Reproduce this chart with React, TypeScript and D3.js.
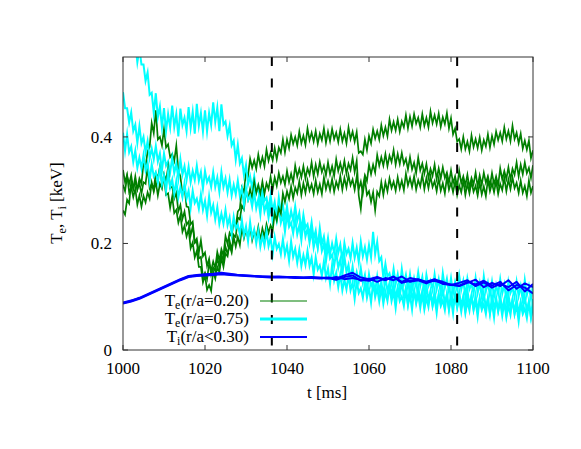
import React from "react";
import * as d3 from "d3";

// ---- data (values in units of 0.001 keV) ----
const T_START = 1000;
const FAST_STEP = 0.5; // ms, Te samples
const SLOW_STEP = 2; // ms, Ti samples

const teCoreA = [310,298,326,312,328,302,317,302,322,312,351,344,373,381,426,407,450,395,400,384,415,380,386,362,368,355,384,337,326,292,306,269,268,236,241,201,203,172,175,136,145,133,162,149,166,154,184,168,189,177,214,199,220,213,243,230,260,265,305,296,335,327,359,342,356,340,367,346,362,345,376,355,370,356,379,358,380,370,395,371,395,379,404,387,400,384,410,388,402,385,416,394,408,391,411,387,406,394,416,389,410,392,415,396,408,390,414,392,407,388,418,396,410,391,409,370,373,367,395,375,402,388,414,397,411,395,422,402,418,401,433,412,428,412,433,410,429,418,441,416,438,420,443,425,436,418,443,421,436,418,448,426,441,424,444,419,437,424,445,416,435,405,416,391,396,377,400,377,391,373,403,381,396,379,399,375,394,382,405,380,402,386,410,394,408,392,418,396,411,392,421,396,408,388,406,378,393,376,393,360,375];

const teCoreB = [262,254,282,275,316,303,326,301,313,293,315,312,343,304,312,302,332,323,344,313,324,291,294,267,288,257,263,239,253,222,233,213,227,191,202,174,186,156,156,127,140,113,122,111,148,134,156,146,173,156,181,176,205,187,216,212,249,245,271,264,300,283,302,285,316,295,310,294,316,293,313,302,325,301,324,308,332,314,326,310,336,315,331,314,346,325,340,324,345,322,341,329,352,326,348,330,353,334,346,328,352,330,345,327,358,336,351,334,355,331,350,338,361,334,355,290,265,306,328,317,348,330,348,333,366,346,362,346,368,345,365,353,375,348,368,349,370,349,359,339,362,339,352,332,361,337,350,331,349,323,340,327,348,321,341,322,343,323,333,314,337,313,326,307,336,313,326,309,329,305,323,311,333,307,328,310,333,314,326,308,332,311,326,309,341,320,336,321,343,320,340,329,352,326,348,330,352,332,342,323,347];

const teCoreC = [338,315,329,296,305,287,303,273,290,269,289,277,296,284,314,297,316,290,312,303,330,318,343,304,307,284,295,260,272,246,260,235,241,215,232,202,209,183,206,176,183,158,171,142,155,148,175,154,180,167,194,180,196,183,212,194,212,197,230,210,226,210,231,206,223,210,231,206,228,212,236,220,234,224,257,243,266,256,294,278,298,284,307,285,305,294,317,291,313,295,318,299,311,293,318,296,311,293,324,302,317,300,321,297,316,304,327,301,323,305,328,309,320,301,325,302,316,294,321,291,298,278,296,262,297,289,315,291,315,298,322,304,316,299,324,303,318,300,331,309,323,306,326,301,319,307,329,302,323,304,326,306,317,298,322,299,313,294,324,301,314,296,316,291,309,296,318,291,312,294,316,297,308,290,314,292,307,289,320,298,313,296,317,293,312,300,323,298,320,302,324,304,314,295,318,295,308,289,318,295,308];

const teEdgeA = [612,579,596,575,598,566,577,540,566,536,536,505,521,479,483,445,482,437,457,418,454,411,443,418,459,419,443,401,453,422,436,411,456,417,447,406,462,421,445,410,450,410,445,422,465,428,455,411,461,423,429,402,421,384,393,357,385,350,360,328,347,311,326,304,326,295,307,274,304,280,286,265,291,261,278,250,286,257,272,246,270,240,261,243,270,242,257,224,254,230,236,215,240,209,224,194,229,199,213,186,210,180,200,182,209,182,198,168,201,180,190,172,201,173,192,165,203,176,193,170,197,174,222,180,203,167,174,136,162,138,144,125,152,124,142,115,152,124,141,116,142,113,135,118,146,120,137,107,141,120,130,113,142,114,133,106,144,117,134,109,135,106,128,112,140,113,130,100,134,114,124,106,135,107,126,100,138,110,127,102,128,100,122,105,133,106,123,94,128,107,117,99,128,101,120,93,131,103,120,96,122];

const teEdgeB = [484,454,454,427,446,411,423,389,420,388,400,371,392,360,378,358,383,354,369,337,369,346,354,334,361,332,350,322,358,329,345,319,344,315,336,319,346,318,334,303,336,315,324,306,334,306,324,297,334,306,322,296,320,290,310,292,318,289,304,272,304,281,289,269,296,266,283,254,290,260,275,248,272,241,261,242,268,239,254,222,254,231,239,219,246,217,234,206,242,213,228,201,224,192,211,191,216,186,199,166,196,172,179,158,184,154,170,141,176,146,160,133,157,126,146,128,154,126,141,110,142,120,129,110,138,110,128,101,138,110,126,101,126,97,118,101,128,101,117,87,120,99,109,91,120,92,111,84,122,94,110,85,111,82,104,87,115,88,105,75,109,88,98,81,110,82,101,74,112,85,102,77,103,74,96,79,107,80,97,68,102,81,91,74,103,75,94,67,105,78,95,70,96,68,90,73,101,74,91,62,96];

const teEdgeC = [408,374,405,371,382,353,374,342,361,341,366,337,351,318,349,326,334,314,341,311,328,299,335,305,320,293,317,286,306,287,313,284,299,267,299,276,284,265,292,263,280,252,288,258,272,245,268,237,256,237,263,234,249,218,250,228,236,217,244,215,232,204,240,211,226,200,224,194,214,196,223,195,211,180,212,190,199,180,208,179,196,168,204,175,190,164,188,158,178,160,186,158,173,142,174,151,159,139,166,136,153,124,160,130,145,118,142,112,132,114,140,112,127,96,129,107,116,98,126,98,116,89,127,99,116,91,116,87,109,92,119,92,109,79,113,92,101,83,112,84,103,76,114,87,104,79,105,76,98,81,109,82,99,70,104,83,93,75,104,77,96,69,107,79,96,72,98,69,91,74,102,75,92,63,97,76,86,68,97,69,88,61,99,72,89,64,90,61,83,66,94,67,84,54,88,68,78,60,89,61,80];

const tiCoreA = [88,92,98,105,112,119,126,133,139,141,142,143,145,143,141,140,139,138,137,138,137,137,136,137,135,136,134,140,145,136,133,137,131,138,128,135,132,128,133,124,123,120,126,132,118,126,120,131,115,125,118];
const tiCoreB = [89,93,97,104,111,118,125,132,138,140,141,142,143,142,141,140,139,138,138,137,137,136,136,136,136,134,137,133,135,132,130,135,132,137,126,130,133,127,130,125,122,126,131,120,127,117,124,118,128,110,124];
const tiCoreC = [87,91,96,103,110,117,124,131,137,139,140,141,142,141,140,139,138,137,136,136,136,135,135,135,134,135,132,137,140,130,134,128,135,131,138,128,131,125,132,128,122,121,128,123,130,121,128,112,122,117,106];

const xTicks = [1000, 1020, 1040, 1060, 1080, 1100];
const yTicks = [0, 0.2, 0.4];
const yTickLabels = ["0", "0.2", "0.4"];
const markerTimes = [1036.3, 1081.5];

const legendItems = [
  { sym: "T", sub: "e", rest: "(r/a=0.20)", color: "#007f00", width: 1.2 },
  { sym: "T", sub: "e", rest: "(r/a=0.75)", color: "#00ffff", width: 3 },
  { sym: "T", sub: "i", rest: "(r/a<0.30)", color: "#0000ff", width: 2 },
];

const W = 581;
const H = 449;
const M = { left: 123, right: 533, top: 57, bottom: 350 };
const FONT = "'Liberation Serif', 'Times New Roman', serif";

export default function App() {
  const x = d3.scaleLinear().domain([1000, 1100]).range([M.left, M.right]);
  const y = d3.scaleLinear().domain([0, 0.55]).range([M.bottom, M.top]);

  const fastLine = d3
    .line<number>()
    .x((_, i) => x(T_START + i * FAST_STEP))
    .y((d) => y(d / 1000));
  const slowLine = d3
    .line<number>()
    .x((_, i) => x(T_START + i * SLOW_STEP))
    .y((d) => y(d / 1000));

  const green = "#007f00";
  const cyan = "#00ffff";
  const fastSeries = [
    { data: teCoreA, color: green, w: 1.7 },
    { data: teEdgeA, color: cyan, w: 2 },
    { data: teCoreB, color: green, w: 1.7 },
    { data: teEdgeB, color: cyan, w: 2 },
    { data: teCoreC, color: green, w: 1.7 },
    { data: teEdgeC, color: cyan, w: 2 },
  ];
  const slowSeries = [tiCoreA, tiCoreB, tiCoreC];

  const legendRight = 249;
  const legendX1 = 260;
  const legendX2 = 307;
  const legendY0 = 301;
  const legendDy = 18;

  return (
    <svg
      width={W}
      height={H}
      style={{ position: "absolute", left: 0, top: 0, background: "#fff" }}
      fontFamily={FONT}
      fontSize={17}
    >
      <defs>
        <clipPath id="plotClip">
          <rect x={M.left} y={M.top} width={M.right - M.left} height={M.bottom - M.top} />
        </clipPath>
      </defs>
      <rect x={0} y={0} width={W} height={H} fill="#fff" />

      <g clipPath="url(#plotClip)">
        {fastSeries.map((s, i) => (
          <path key={"f" + i} d={fastLine(s.data) || ""} fill="none" stroke={s.color} strokeWidth={s.w} strokeLinejoin="miter" strokeMiterlimit={10} />
        ))}
        {slowSeries.map((s, i) => (
          <path key={"s" + i} d={slowLine(s) || ""} fill="none" stroke="#0000ff" strokeWidth={2} strokeLinejoin="round" />
        ))}
        {markerTimes.map((t) => (
          <line key={t} x1={x(t)} x2={x(t)} y1={M.top} y2={M.bottom} stroke="#000" strokeWidth={2} strokeDasharray="9 12.5" />
        ))}
      </g>

      {/* frame */}
      <rect x={M.left} y={M.top} width={M.right - M.left} height={M.bottom - M.top} fill="none" stroke="#333" strokeWidth={1} />

      {/* x ticks */}
      {xTicks.map((t) => (
        <g key={"xt" + t}>
          <line x1={x(t)} x2={x(t)} y1={M.bottom} y2={M.bottom - 5} stroke="#333" />
          <line x1={x(t)} x2={x(t)} y1={M.top} y2={M.top + 5} stroke="#333" />
          <text x={x(t)} y={374} textAnchor="middle">{t}</text>
        </g>
      ))}

      {/* y ticks */}
      {yTicks.map((v, i) => (
        <g key={"yt" + v}>
          <line x1={M.left} x2={M.left + 5} y1={y(v)} y2={y(v)} stroke="#333" />
          <line x1={M.right} x2={M.right - 5} y1={y(v)} y2={y(v)} stroke="#333" />
          <text x={112} y={y(v) + 6} textAnchor="end">{yTickLabels[i]}</text>
        </g>
      ))}

      {/* axis labels */}
      <text x={327} y={398} textAnchor="middle">t [ms]</text>
      <text transform="translate(62,203) rotate(-90)" textAnchor="middle">
        <tspan>T</tspan>
        <tspan dy={4} fontSize={12}>e</tspan>
        <tspan dy={-4}>, T</tspan>
        <tspan dy={4} fontSize={12}>i</tspan>
        <tspan dy={-4}> [keV]</tspan>
      </text>

      {/* legend */}
      {legendItems.map((it, i) => {
        const ly = legendY0 + i * legendDy;
        return (
          <g key={"lg" + i}>
            <text x={legendRight} y={ly + 5} textAnchor="end">
              <tspan>{it.sym}</tspan>
              <tspan dy={3} fontSize={12}>{it.sub}</tspan>
              <tspan dy={-3}>{it.rest}</tspan>
            </text>
            <line x1={legendX1} x2={legendX2} y1={ly} y2={ly} stroke={it.color} strokeWidth={it.width} />
          </g>
        );
      })}
    </svg>
  );
}
